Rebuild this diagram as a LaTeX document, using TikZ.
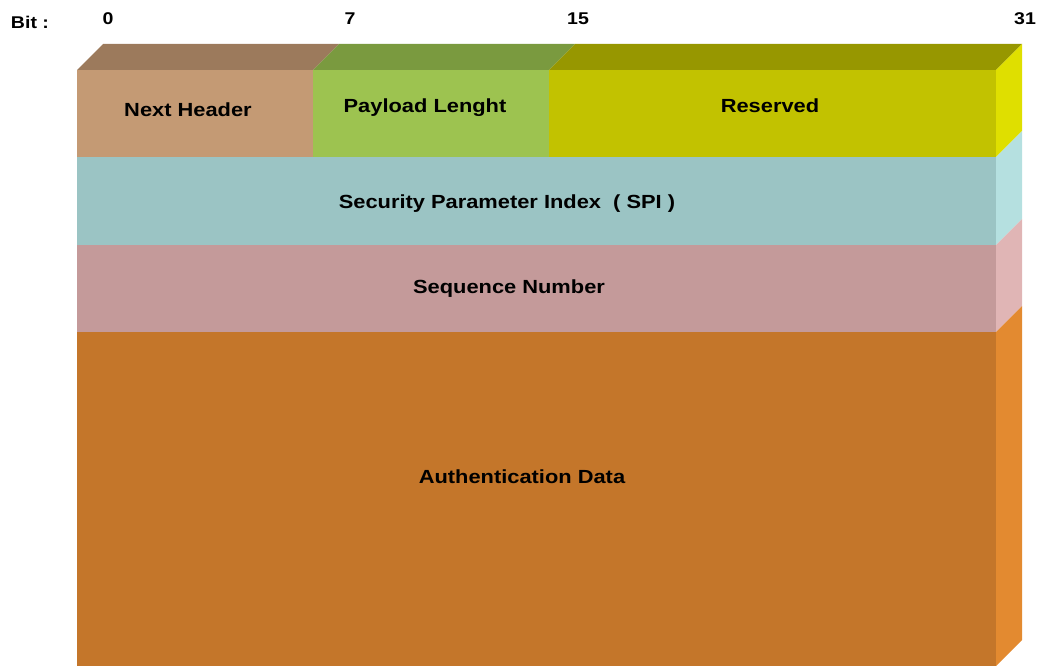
\documentclass[tikz,border=0pt]{standalone}
\usepackage{fontspec}
\setmainfont{Liberation Sans}
\newfontfamily\widefont[FakeStretch=1.15]{Liberation Sans}
\definecolor{nhF}{HTML}{C49A74}
\definecolor{nhT}{HTML}{9C7A5C}
\definecolor{plF}{HTML}{9DC350}
\definecolor{plT}{HTML}{7A9A3F}
\definecolor{rsF}{HTML}{C2C200}
\definecolor{rsT}{HTML}{979700}
\definecolor{rsS}{HTML}{DFDF00}
\definecolor{spF}{HTML}{9BC4C4}
\definecolor{spS}{HTML}{B5E0E0}
\definecolor{sqF}{HTML}{C49A9A}
\definecolor{sqS}{HTML}{E0B5B5}
\definecolor{adF}{HTML}{C4762A}
\definecolor{adS}{HTML}{E38A30}
\tikzset{
  lbl/.style={font=\widefont\bfseries\fontsize{19}{22}\selectfont, text=black, inner sep=0pt},
  bitlbl/.style={font=\widefont\bfseries\fontsize{17}{20}\selectfont, text=black, inner sep=0pt}
}
\begin{document}
\begin{tikzpicture}[x=1pt,y=-1pt]
\useasboundingbox (0,0) rectangle (1040,666);
% top faces
\fill[nhT] (77,70) -- (103,44) -- (339,44) -- (313,70) -- cycle;
\fill[plT] (313,70) -- (339,44) -- (575,44) -- (549,70) -- cycle;
\fill[rsT] (549,70) -- (575,44) -- (1022,44) -- (996,70) -- cycle;
% right side faces
\fill[rsS] (996,70) -- (1022,44) -- (1022,131) -- (996,157) -- cycle;
\fill[spS] (996,157) -- (1022,131) -- (1022,219) -- (996,245) -- cycle;
\fill[sqS] (996,245) -- (1022,219) -- (1022,306) -- (996,332) -- cycle;
\fill[adS] (996,332) -- (1022,306) -- (1022,640) -- (996,666) -- cycle;
% front faces
\fill[nhF] (77,70) rectangle (313,157);
\fill[plF] (313,70) rectangle (549,157);
\fill[rsF] (549,70) rectangle (996,157);
\fill[spF] (77,157) rectangle (996,245);
\fill[sqF] (77,245) rectangle (996,332);
\fill[adF] (77,332) rectangle (996,666);
% labels
\node[lbl] (nh) at (188,110) {Next Header};
\node[lbl] (pl) at (425,108) {Payload Lenght};
\node[lbl] (rs) at (770,106) {Reserved};
\node[lbl] (sp) at (507,204) {Security Parameter Index\ \ ( SPI )};
\node[lbl] (sq) at (509,289) {Sequence Number};
\node[lbl] (ad) at (522,477) {Authentication Data};
% bit labels
\node[bitlbl] (bit) at (30,22) {Bit :};
\node[bitlbl] (b0) at (108,19) {0};
\node[bitlbl] (b7) at (350,19) {7};
\node[bitlbl] (b15) at (578,19) {15};
\node[bitlbl] (b31) at (1025,19) {31};
\end{tikzpicture}
\end{document}
